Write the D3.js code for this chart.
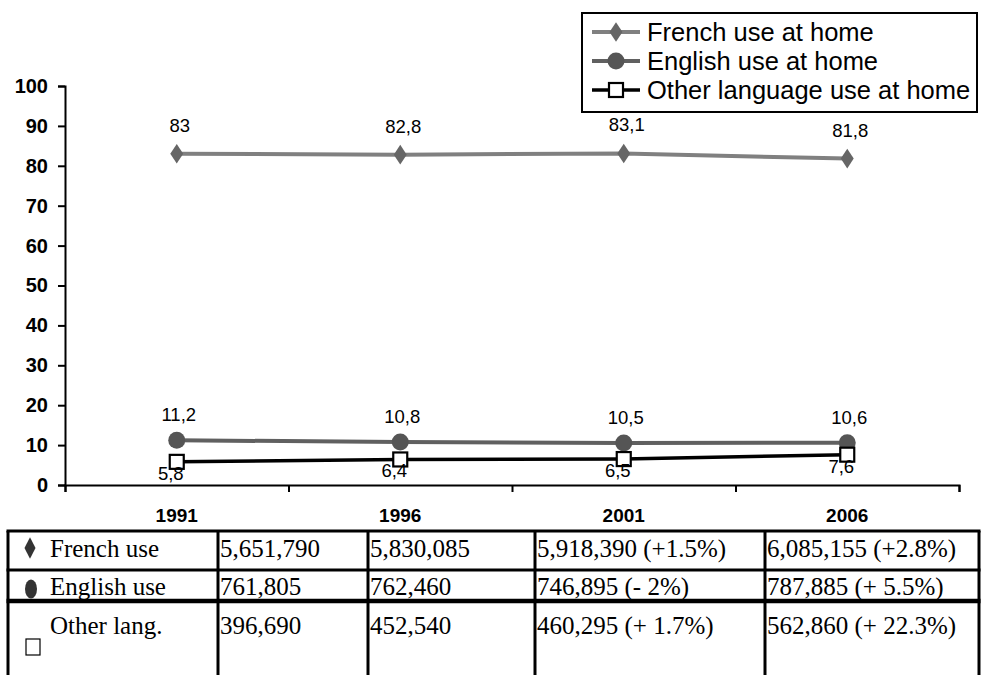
<!DOCTYPE html>
<html>
<head>
<meta charset="utf-8">
<script src="https://cdn.jsdelivr.net/npm/d3@7"></script>
<style>
  body { margin: 0; background: #fff; }
  .sans { font-family: "Liberation Sans", Arial, sans-serif; }
  .tbl text { font-family: "Liberation Serif", "Times New Roman", serif; }
</style>
</head>
<body>
<div id="chart"></div>
<script>
// data
const years = ["1991", "1996", "2001", "2006"];
const french = [83, 82.8, 83.1, 81.8];
const english = [11.2, 10.8, 10.5, 10.6];
const other = [5.8, 6.4, 6.5, 7.6];
const seriesNames = ["French use at home", "English use at home", "Other language use at home"];
const yTicks = [0, 10, 20, 30, 40, 50, 60, 70, 80, 90, 100];
const rowNames = ["French use", "English use", "Other lang."];
const frenchCounts = ["5,651,790", "5,830,085", "5,918,390 (+1.5%)", "6,085,155 (+2.8%)"];
const englishCounts = ["761,805", "762,460", "746,895 (- 2%)", "787,885 (+ 5.5%)"];
const otherCounts = ["396,690", "452,540", "460,295 (+ 1.7%)", "562,860 (+ 22.3%)"];

const W = 981, H = 675;
const svg = d3.select("#chart").append("svg")
    .attr("width", W).attr("height", H);
const plot = svg.append("g").attr("class", "sans");

// scales
const x = d3.scaleBand().domain(years).range([65, 959]);
const y = d3.scaleLinear().domain([0, 100]).range([485, 86]);

// y axis
const yAxis = plot.append("g")
    .attr("transform", "translate(65,0)")
    .call(d3.axisLeft(y).tickValues(yTicks).tickSize(7).tickPadding(10));
yAxis.attr("font-family", null);
yAxis.select(".domain").attr("stroke", "#000").attr("stroke-width", 2);
yAxis.selectAll(".tick line").attr("stroke", "#000").attr("stroke-width", 2);
yAxis.selectAll("text")
    .style("font-size", "20px").style("font-weight", "bold").attr("fill", "#000");

// x axis: ticks on band boundaries, labels on band centres
const xEdge = d3.scaleLinear().domain([0, years.length]).range(x.range());
const xAxis = plot.append("g")
    .attr("transform", "translate(0,485)")
    .call(d3.axisBottom(xEdge).ticks(years.length).tickSizeInner(7).tickSizeOuter(7).tickFormat(""));
xAxis.select(".domain").attr("stroke", "#000").attr("stroke-width", 2);
xAxis.selectAll(".tick line").attr("stroke", "#000").attr("stroke-width", 2);

plot.append("g").selectAll("text")
    .data(years)
    .join("text")
    .attr("x", d => x(d) + x.bandwidth() / 2)
    .attr("y", 522)
    .attr("text-anchor", "middle")
    .style("font-size", "19px").style("font-weight", "bold")
    .text(d => d);

const cx = d => x(d) + x.bandwidth() / 2;
const line = d3.line().x((d, i) => cx(years[i])).y(d => y(d));
const fmt = v => String(v).replace(".", ",");

// French
plot.append("path").datum(french)
    .attr("d", line).attr("fill", "none")
    .attr("stroke", "#808080").attr("stroke-width", 4);
plot.append("g").selectAll("path")
    .data(french).join("path")
    .attr("d", d3.symbol(d3.symbolDiamond, 110))
    .attr("transform", (d, i) => `translate(${cx(years[i])},${y(d)}) scale(1.15,1)`)
    .attr("fill", "#666");

// English
plot.append("path").datum(english)
    .attr("d", line).attr("fill", "none")
    .attr("stroke", "#606060").attr("stroke-width", 4);
plot.append("g").selectAll("circle")
    .data(english).join("circle")
    .attr("cx", (d, i) => cx(years[i])).attr("cy", d => y(d))
    .attr("r", 8.5).attr("fill", "#555");

// Other
plot.append("path").datum(other)
    .attr("d", line).attr("fill", "none")
    .attr("stroke", "#000").attr("stroke-width", 3.5);
plot.append("g").selectAll("rect")
    .data(other).join("rect")
    .attr("x", (d, i) => cx(years[i]) - 7).attr("y", d => y(d) - 7)
    .attr("width", 14).attr("height", 14)
    .attr("fill", "#fff").attr("stroke", "#000").attr("stroke-width", 2.2);

// data labels
const labels = plot.append("g").style("font-size", "18.5px").attr("fill", "#000");
labels.selectAll(".lf").data(french).join("text").attr("class", "lf")
    .attr("x", (d, i) => cx(years[i]) + 3).attr("y", d => y(d) - 22)
    .attr("text-anchor", "middle").text(fmt);
labels.selectAll(".le").data(english).join("text").attr("class", "le")
    .attr("x", (d, i) => cx(years[i]) + 2).attr("y", d => y(d) - 19)
    .attr("text-anchor", "middle").text(fmt);
labels.selectAll(".lo").data(other).join("text").attr("class", "lo")
    .attr("x", (d, i) => cx(years[i]) - 6).attr("y", d => y(d) + 18)
    .attr("text-anchor", "middle").text(fmt);

// legend
const lg = plot.append("g");
lg.append("rect")
    .attr("x", 582).attr("y", 13).attr("width", 395).attr("height", 99)
    .attr("fill", "#fff").attr("stroke", "#000").attr("stroke-width", 2);
const legendRow = d3.scalePoint().domain(seriesNames).range([32, 90]);
const lgColors = ["#808080", "#606060", "#000"];
seriesNames.forEach((name, i) => {
  const ly = legendRow(name);
  lg.append("line").attr("x1", 592).attr("x2", 640).attr("y1", ly).attr("y2", ly)
      .attr("stroke", lgColors[i]).attr("stroke-width", i === 2 ? 3.5 : 4);
  if (i === 0) {
    lg.append("path").attr("d", d3.symbol(d3.symbolDiamond, 110))
        .attr("transform", `translate(616,${ly}) scale(1.15,1)`).attr("fill", "#666");
  } else if (i === 1) {
    lg.append("circle").attr("cx", 616).attr("cy", ly).attr("r", 8.5).attr("fill", "#555");
  } else {
    lg.append("rect").attr("x", 609).attr("y", ly - 7).attr("width", 14).attr("height", 14)
        .attr("fill", "#fff").attr("stroke", "#000").attr("stroke-width", 2.2);
  }
  lg.append("text").attr("x", 647).attr("y", ly + 9)
      .style("font-size", "25.5px").text(name);
});

// table
const colEdges = [8, 218, 368, 535, 765, 979];
const rowEdges = [531, 570, 601];
const tbl = svg.append("g").attr("class", "tbl");
const counts = [frenchCounts, englishCounts, otherCounts];
const baselines = [557, 595, 634];

rowEdges.forEach((ry, i) => {
  tbl.append("line").attr("x1", colEdges[0] - 1.5).attr("x2", colEdges[5] + 1.5)
      .attr("y1", ry).attr("y2", ry)
      .attr("stroke", "#000").attr("stroke-width", i === 2 ? 4.5 : 3);
});
colEdges.forEach(cxl => {
  tbl.append("line").attr("x1", cxl).attr("x2", cxl)
      .attr("y1", rowEdges[0]).attr("y2", H)
      .attr("stroke", "#000").attr("stroke-width", 3);
});

rowNames.forEach((name, r) => {
  tbl.append("text").attr("x", 50).attr("y", baselines[r])
      .style("font-size", "25px").text(name);
  counts[r].forEach((v, c) => {
    tbl.append("text").attr("x", colEdges[c + 1] + 2).attr("y", baselines[r])
        .style("font-size", "25px").text(v);
  });
});
// row symbols
tbl.append("path").attr("d", d3.symbol(d3.symbolDiamond, 80))
    .attr("transform", "translate(30,548) scale(1.15,1.3)").attr("fill", "#333");
tbl.append("ellipse").attr("cx", 31).attr("cy", 589).attr("rx", 6).attr("ry", 9.5).attr("fill", "#333");
tbl.append("rect").attr("x", 26).attr("y", 639).attr("width", 14).attr("height", 16)
    .attr("fill", "#fff").attr("stroke", "#000").attr("stroke-width", 1.2);
</script>
</body>
</html>
